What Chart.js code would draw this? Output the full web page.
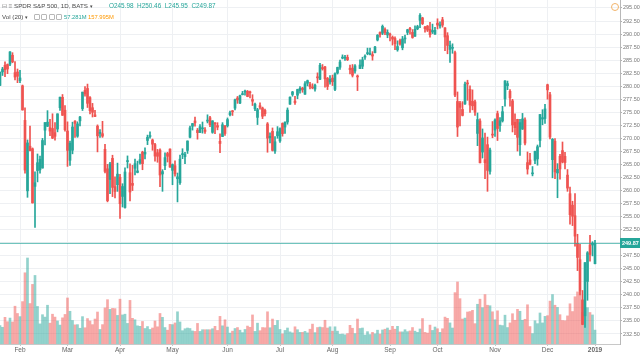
<!DOCTYPE html>
<html><head><meta charset="utf-8">
<script src="https://cdn.jsdelivr.net/npm/chart.js@4/dist/chart.umd.min.js"></script>
<style>
html,body{margin:0;padding:0;background:#fff;}
#wrap{position:relative;width:640px;height:356px;font-family:"Liberation Sans",Arial,sans-serif;overflow:hidden;}
canvas{position:absolute;left:0;top:0;}
.t{position:absolute;white-space:nowrap;font-size:6.2px;line-height:8px;color:#4a4a4a;}
.ic{display:inline-block;width:4px;height:4px;border:1px solid #b8b8b8;border-radius:1px;margin-right:1.3px;vertical-align:-1px;}
</style></head>
<body><div id="wrap"><canvas id="c" width="640" height="356"></canvas>
<div class="t" style="left:2px;top:1.5px;"><span style="color:#888">⊟</span>&nbsp;<span style="color:#888">≡</span> SPDR S&amp;P 500, 1D, BATS <span style="font-size:5px">▾</span></div>
<div class="t" id="ohlc" style="left:109px;top:1.5px;color:#26a69a;font-size:6.4px;"></div>
<div class="t" style="left:2px;top:12.5px;">Vol (20) <span style="font-size:5px">▾</span></div>
<div class="t" style="left:34px;top:12.5px;"><span class="ic"></span><span class="ic"></span><span class="ic"></span><span class="ic"></span></div>
<div class="t" id="vol1" style="left:64px;top:12.5px;color:#26a69a;font-size:5.8px;"></div>
<div class="t" id="vol2" style="left:88px;top:12.5px;color:#ff9800;font-size:5.8px;"></div>
<div style="position:absolute;left:611px;top:3px;width:6px;height:6px;border:1px solid #f2b36a;border-radius:50%;"></div>
</div>
<script>
const dates = [
'2018-01-22','2018-01-23','2018-01-24','2018-01-25','2018-01-26','2018-01-29','2018-01-30','2018-01-31',
'2018-02-01','2018-02-02','2018-02-05','2018-02-06','2018-02-07','2018-02-08','2018-02-09','2018-02-12','2018-02-13','2018-02-14','2018-02-15','2018-02-16','2018-02-20','2018-02-21','2018-02-22','2018-02-23','2018-02-26','2018-02-27','2018-02-28',
'2018-03-01','2018-03-02','2018-03-05','2018-03-06','2018-03-07','2018-03-08','2018-03-09','2018-03-12','2018-03-13','2018-03-14','2018-03-15','2018-03-16','2018-03-19','2018-03-20','2018-03-21','2018-03-22','2018-03-23','2018-03-26','2018-03-27','2018-03-28','2018-03-29',
'2018-04-02','2018-04-03','2018-04-04','2018-04-05','2018-04-06','2018-04-09','2018-04-10','2018-04-11','2018-04-12','2018-04-13','2018-04-16','2018-04-17','2018-04-18','2018-04-19','2018-04-20','2018-04-23','2018-04-24','2018-04-25','2018-04-26','2018-04-27','2018-04-30',
'2018-05-01','2018-05-02','2018-05-03','2018-05-04','2018-05-07','2018-05-08','2018-05-09','2018-05-10','2018-05-11','2018-05-14','2018-05-15','2018-05-16','2018-05-17','2018-05-18','2018-05-21','2018-05-22','2018-05-23','2018-05-24','2018-05-25','2018-05-29','2018-05-30','2018-05-31',
'2018-06-01','2018-06-04','2018-06-05','2018-06-06','2018-06-07','2018-06-08','2018-06-11','2018-06-12','2018-06-13','2018-06-14','2018-06-15','2018-06-18','2018-06-19','2018-06-20','2018-06-21','2018-06-22','2018-06-25','2018-06-26','2018-06-27','2018-06-28','2018-06-29',
'2018-07-02','2018-07-03','2018-07-05','2018-07-06','2018-07-09','2018-07-10','2018-07-11','2018-07-12','2018-07-13','2018-07-16','2018-07-17','2018-07-18','2018-07-19','2018-07-20','2018-07-23','2018-07-24','2018-07-25','2018-07-26','2018-07-27','2018-07-30','2018-07-31',
'2018-08-01','2018-08-02','2018-08-03','2018-08-06','2018-08-07','2018-08-08','2018-08-09','2018-08-10','2018-08-13','2018-08-14','2018-08-15','2018-08-16','2018-08-17','2018-08-20','2018-08-21','2018-08-22','2018-08-23','2018-08-24','2018-08-27','2018-08-28','2018-08-29','2018-08-30','2018-08-31',
'2018-09-04','2018-09-05','2018-09-06','2018-09-07','2018-09-10','2018-09-11','2018-09-12','2018-09-13','2018-09-14','2018-09-17','2018-09-18','2018-09-19','2018-09-20','2018-09-21','2018-09-24','2018-09-25','2018-09-26','2018-09-27','2018-09-28',
'2018-10-01','2018-10-02','2018-10-03','2018-10-04','2018-10-05','2018-10-08','2018-10-09','2018-10-10','2018-10-11','2018-10-12','2018-10-15','2018-10-16','2018-10-17','2018-10-18','2018-10-19','2018-10-22','2018-10-23','2018-10-24','2018-10-25','2018-10-26','2018-10-29','2018-10-30','2018-10-31',
'2018-11-01','2018-11-02','2018-11-05','2018-11-06','2018-11-07','2018-11-08','2018-11-09','2018-11-12','2018-11-13','2018-11-14','2018-11-15','2018-11-16','2018-11-19','2018-11-20','2018-11-21','2018-11-23','2018-11-26','2018-11-27','2018-11-28','2018-11-29','2018-11-30',
'2018-12-03','2018-12-04','2018-12-06','2018-12-07','2018-12-10','2018-12-11','2018-12-12','2018-12-13','2018-12-14','2018-12-17','2018-12-18','2018-12-19','2018-12-20','2018-12-21','2018-12-24','2018-12-26','2018-12-27','2018-12-28','2018-12-31',
'2019-01-02'];

const opens = [
280.17,282.74,284.02,284.16,284.25,285.93,282.60,282.73,
281.07,280.08,273.45,259.94,268.50,268.01,260.80,263.83,263.97,264.31,271.57,272.32,272.03,271.90,271.10,271.79,275.87,277.87,275.40,
271.41,265.80,267.73,273.30,270.42,273.36,275.71,279.20,279.57,277.81,275.88,274.50,272.35,270.95,270.90,267.91,264.17,262.13,266.17,260.75,261.12,
262.55,258.87,256.75,265.55,263.42,261.37,264.27,263.47,265.29,267.37,267.00,269.60,270.35,269.70,268.81,267.26,267.76,263.18,264.78,267.10,267.95,
263.87,264.76,262.26,261.52,266.89,266.50,267.69,270.22,272.33,273.34,271.57,271.14,271.83,271.62,273.31,273.96,271.16,272.98,272.45,269.45,270.36,272.43,
272.41,274.53,275.12,275.79,277.74,276.78,278.39,278.89,279.03,278.93,277.45,275.66,274.02,276.26,275.83,275.36,272.78,270.12,271.34,267.56,270.50,
269.51,272.87,272.17,273.14,276.56,278.41,277.15,278.28,279.17,279.64,278.47,280.56,280.31,279.77,279.45,281.79,281.33,283.59,283.71,281.51,280.81,
281.56,279.39,282.53,283.64,285.39,285.39,285.53,283.45,283.47,282.92,281.97,283.40,283.83,285.57,286.25,286.10,286.06,286.44,288.86,290.30,290.16,290.89,289.84,
289.84,289.41,289.15,286.98,288.74,287.37,289.06,290.32,291.06,290.32,289.58,291.00,292.64,293.09,291.34,291.53,290.91,290.41,289.99,
292.11,291.56,292.74,291.18,289.69,287.05,287.27,286.44,277.08,276.77,275.55,276.60,280.49,279.40,277.13,277.00,270.95,273.33,267.38,265.92,268.80,263.67,270.65,
271.60,274.75,272.44,273.34,277.56,280.11,279.03,277.19,273.09,273.64,268.78,271.79,273.54,265.36,265.86,263.20,265.78,266.06,269.60,273.71,273.81,
280.28,278.37,265.92,269.46,263.37,266.56,267.66,266.55,262.96,259.40,257.20,255.17,249.86,246.74,239.04,235.97,242.57,249.58,249.56,
245.98];

const highs = [
282.69,283.62,284.70,284.27,286.63,286.43,284.74,283.30,
283.06,280.23,275.85,269.70,272.36,268.17,263.61,267.01,266.62,270.00,273.04,275.32,273.67,274.72,273.05,274.71,277.91,278.41,276.29,
273.17,269.48,273.11,273.39,273.18,274.24,278.87,279.91,280.41,278.02,276.71,275.39,272.59,271.67,273.27,268.87,265.02,265.43,266.77,262.64,265.26,
263.13,261.31,264.36,266.64,265.11,264.84,266.04,265.64,267.00,267.54,268.20,270.63,271.25,269.88,269.06,267.89,268.00,264.00,267.22,267.34,268.00,
265.10,265.68,263.36,266.79,268.02,267.32,269.52,272.36,272.85,274.07,271.91,272.65,273.14,272.06,274.52,274.25,273.39,273.05,273.01,270.89,273.02,272.47,
273.92,275.22,275.36,277.52,278.04,278.30,279.01,279.27,279.19,279.08,278.37,276.79,275.76,276.82,276.00,275.60,273.04,271.06,272.00,270.34,272.26,
272.04,272.98,273.18,275.84,277.96,279.01,278.04,279.43,279.93,279.80,280.91,281.18,280.74,280.48,280.43,282.56,284.37,284.16,283.82,281.69,282.02,
282.13,282.58,283.66,284.99,286.01,285.91,285.97,284.06,284.16,284.17,282.16,285.04,285.56,286.01,287.31,287.31,286.63,287.67,289.90,290.42,291.74,291.18,290.81,
290.21,289.64,289.49,288.70,289.04,289.55,289.80,290.92,291.27,290.86,291.58,291.69,293.94,293.22,291.50,291.65,292.24,291.91,291.28,
292.93,292.36,293.21,291.24,290.27,288.65,288.13,286.72,278.90,277.09,277.04,280.79,281.15,280.07,279.30,277.36,274.87,273.76,271.81,271.00,270.25,268.12,273.23,
273.73,275.23,274.01,276.14,281.10,280.99,279.34,277.49,274.69,273.67,273.66,274.79,273.94,267.40,267.12,264.60,267.55,268.73,274.58,275.50,276.51,
280.40,278.85,269.97,269.94,265.16,266.95,269.31,267.34,264.03,260.65,257.95,259.40,251.62,249.71,240.84,246.18,248.29,251.40,250.19,
250.46];

const lows = [
280.11,282.06,281.84,282.41,283.96,284.50,281.22,280.68,
280.68,275.41,263.31,258.70,267.58,257.59,252.92,261.66,263.31,264.30,268.77,272.27,270.50,269.94,269.64,271.25,275.35,274.39,271.37,
264.63,264.81,267.04,270.19,270.20,272.41,275.34,278.08,275.92,274.67,274.10,274.14,267.41,270.18,270.19,263.36,257.83,259.41,258.84,258.58,259.84,
254.67,256.84,256.60,264.32,257.99,259.99,262.98,263.39,265.06,263.99,266.07,268.80,270.03,267.72,265.61,265.42,260.76,259.85,264.02,265.47,264.43,
261.11,262.76,257.82,261.15,266.11,265.15,267.11,270.07,271.59,272.36,269.85,271.11,271.01,270.96,272.96,272.26,270.98,270.90,271.64,267.27,270.33,270.56,
272.17,274.30,274.39,275.46,276.71,276.64,278.33,278.28,277.98,277.76,276.30,275.32,272.65,275.61,273.79,274.32,267.34,269.11,267.57,267.12,270.02,
269.24,270.42,270.96,272.71,276.50,278.08,276.52,277.60,278.66,278.84,278.41,280.06,279.46,279.50,279.06,280.64,281.28,283.09,279.80,279.36,280.38,
280.13,279.16,282.33,283.20,285.24,284.94,284.92,282.36,281.77,282.48,279.16,283.36,283.37,285.15,286.03,285.98,284.99,286.38,288.68,289.40,289.89,289.90,289.29,
288.68,287.89,287.00,286.71,287.88,286.98,288.23,289.87,290.00,289.20,289.55,290.83,291.24,291.81,290.37,290.48,289.41,290.10,289.95,
290.98,291.14,291.32,286.80,286.22,284.55,286.31,277.99,270.36,272.37,274.30,276.51,277.30,274.97,275.47,274.41,268.61,265.30,266.23,262.29,259.85,263.12,270.12,
270.38,269.59,271.35,273.13,276.16,279.34,276.18,271.23,270.70,267.57,266.72,271.71,268.74,263.15,264.90,262.81,265.15,264.86,268.36,272.61,272.85,
277.51,269.90,262.44,262.29,258.62,262.19,265.29,264.14,259.85,253.53,253.28,249.35,244.65,239.98,234.27,233.76,238.96,246.45,247.47,
245.95];

const closes = [
282.69,283.29,283.18,283.30,286.58,284.68,281.76,281.90,
281.58,275.45,263.93,269.13,267.67,257.63,261.50,265.34,266.00,269.59,273.03,273.11,271.40,270.05,270.40,274.71,277.90,274.43,271.65,
267.70,269.08,272.19,272.88,272.78,274.10,278.87,278.52,276.72,275.30,275.00,274.20,270.49,270.95,270.43,263.67,258.05,265.11,260.60,259.83,263.15,
257.47,260.77,263.56,265.64,259.72,261.00,265.15,263.76,265.93,265.15,267.33,270.19,270.39,268.89,266.61,266.57,262.98,263.63,266.31,266.56,264.51,
264.98,263.20,262.62,266.02,266.92,266.92,269.50,272.02,272.85,272.98,271.10,272.24,271.95,271.33,273.37,272.63,273.36,272.76,272.15,269.02,272.61,270.94,
273.60,274.90,275.10,277.40,277.37,278.19,278.56,278.92,278.03,278.73,277.13,276.56,275.50,275.97,274.24,274.74,270.04,270.40,267.70,269.35,271.28,
271.86,270.90,273.11,275.42,277.90,278.90,276.86,279.37,279.59,279.34,280.47,281.06,279.88,279.68,280.20,281.61,284.01,283.34,281.42,279.95,281.33,
280.86,282.39,283.60,284.64,285.58,285.46,285.07,283.16,282.10,283.90,281.78,284.06,285.06,285.67,286.34,286.17,285.79,287.51,289.78,289.92,291.48,290.30,290.31,
289.81,289.03,288.16,287.60,288.10,289.05,289.12,290.83,290.88,289.34,290.91,291.44,293.58,291.99,291.02,290.75,289.88,290.69,290.72,
291.73,291.56,291.72,289.44,287.82,287.82,287.40,278.30,272.17,275.95,274.40,280.40,280.45,276.40,276.25,275.01,273.61,265.32,270.08,265.33,263.86,267.77,270.63,
273.51,271.89,273.39,275.12,281.01,280.50,277.76,272.57,272.06,270.20,273.02,273.73,269.10,264.12,265.02,263.25,267.50,268.40,274.58,273.98,275.65,
279.30,270.25,269.84,263.57,264.07,264.13,265.46,265.37,260.47,255.36,255.08,251.26,247.17,240.70,234.34,246.18,248.07,247.75,249.92,
249.87];

// volume in millions of shares
const volumes = [
76,69,110,92,107,91,156,126,
113,175,294,355,167,246,283,155,83,121,111,160,86,123,111,95,78,108,122,
190,135,97,79,80,65,113,67,105,95,80,103,132,60,80,149,183,143,147,146,118,
185,120,123,85,180,106,100,75,73,93,64,72,60,66,95,71,126,110,68,57,81,
80,87,133,91,55,63,66,64,54,52,85,52,59,59,59,59,63,73,56,114,75,100,
70,45,53,64,68,57,47,60,74,69,120,52,86,55,68,67,133,67,103,77,97,
60,42,56,66,50,46,71,59,48,48,52,46,61,82,47,68,70,68,98,66,71,
53,71,53,40,41,38,43,77,65,43,103,64,66,37,51,39,48,42,57,41,58,61,66,
57,73,61,73,50,50,59,51,54,68,53,48,62,105,48,45,78,56,70,
63,48,63,111,106,87,66,212,256,187,103,107,132,134,139,84,164,185,150,204,160,158,133,
100,137,78,76,119,68,87,125,98,143,135,98,102,162,72,43,96,84,128,87,114,
117,177,204,160,151,121,97,96,116,166,134,195,215,215,130,150,150,130,120,
57.281];

const monthLabels = ['Feb','Mar','Apr','May','Jun','Jul','Aug','Sep','Oct','Nov','Dec','2019'];
const volMA20 = 157.995;

const UP = '#26a69a', DOWN = '#ef5350';
const UPV = 'rgba(38,166,154,0.5)', DOWNV = 'rgba(239,83,80,0.5)';
const isUp = i => closes[i] >= opens[i];
const last = dates.length - 1;
const lastClose = closes[last];

const monthTickIdx = [];
for (let i = 1; i < dates.length; i++) {
  if (dates[i].slice(5, 7) !== dates[i - 1].slice(5, 7)) monthTickIdx.push(i);
}
const labelFor = v => { const k = monthTickIdx.indexOf(v); return k >= 0 ? monthLabels[k] : ''; };

document.getElementById('ohlc').innerHTML =
  'O' + opens[last].toFixed(2) + '&nbsp; H' + highs[last].toFixed(2) + '&nbsp; L' + lows[last].toFixed(2) + '&nbsp; C' + closes[last].toFixed(2);
document.getElementById('vol1').textContent = volumes[last].toFixed(3) + 'M';
document.getElementById('vol2').textContent = volMA20.toFixed(3) + 'M';

const X_MAX = last + 10;
const TICK_FONT = '"Liberation Sans", Arial';

const priceTag = {
  id: 'priceTag',
  afterDraw(chart) {
    const c = chart.ctx, ys = chart.scales.y, a = chart.chartArea;
    const py = Math.round(ys.getPixelForValue(lastClose));
    c.save();
    c.fillStyle = UP;
    c.fillRect(a.right, py - 5, 640 - a.right, 10);
    c.fillStyle = '#fff';
    c.font = 'bold 5.5px ' + TICK_FONT;
    c.textBaseline = 'middle';
    c.fillText(lastClose.toFixed(2), a.right + 2, py + 0.5);
    c.restore();
  }
};

new Chart(document.getElementById('c'), {
  type: 'bar',
  data: {
    datasets: [
      {
        type: 'line', data: [{x: -5, y: lastClose}, {x: X_MAX + 5, y: lastClose}],
        borderColor: 'rgba(38,166,154,0.75)', borderWidth: 1, pointRadius: 0, yAxisID: 'y', order: 0
      },
      {
        data: dates.map((d, i) => ({x: i, y: [opens[i], closes[i]]})),
        backgroundColor: c => isUp(c.dataIndex) ? UP : DOWN,
        barThickness: 2, minBarLength: 1, grouped: false, yAxisID: 'y', order: 1
      },
      {
        data: dates.map((d, i) => ({x: i, y: [lows[i], highs[i]]})),
        backgroundColor: c => isUp(c.dataIndex) ? UP : DOWN,
        barThickness: 1, grouped: false, yAxisID: 'y', order: 2
      },
      {
        data: dates.map((d, i) => ({x: i, y: volumes[i]})),
        backgroundColor: c => isUp(c.dataIndex) ? UPV : DOWNV,
        barThickness: 2, grouped: false, yAxisID: 'yv', order: 3
      }
    ]
  },
  options: {
    responsive: false, animation: false, devicePixelRatio: 1,
    layout: {padding: 0},
    plugins: {legend: {display: false}, tooltip: {enabled: false}},
    scales: {
      x: {
        type: 'linear', min: 0, max: X_MAX, offset: false,
        grid: {color: '#eef0f3', offset: false, tickLength: 2, tickColor: '#c8c8c8'},
        border: {color: '#c8c8c8'},
        afterBuildTicks: s => { s.ticks = monthTickIdx.map(v => ({value: v})); },
        afterFit: s => { s.height = 12; s.paddingLeft = 0; s.paddingRight = 0; },
        ticks: {
          autoSkip: false, maxRotation: 0, padding: 0, color: '#666',
          font: c => ({family: TICK_FONT, size: 6.5, weight: (c.tick && labelFor(c.tick.value) === '2019') ? 'bold' : 'normal'}),
          callback: v => labelFor(v)
        }
      },
      y: {
        position: 'right', min: 230.58, max: 296.53,
        grid: {color: '#eef0f3', tickLength: 2, tickColor: '#b0b0b0'},
        border: {color: '#b8b8b8'},
        afterBuildTicks: s => { const t = []; for (let k = 0; k <= 25; k++) t.push({value: 232.5 + 2.5 * k}); s.ticks = t; },
        afterFit: s => { s.width = 20; s.paddingTop = 0; s.paddingBottom = 0; },
        ticks: {padding: 1, color: '#777', font: {family: TICK_FONT, size: 5.5}, callback: v => v.toFixed(2)}
      },
      yv: {display: false, min: 0, max: 1420}
    }
  },
  plugins: [priceTag]
});
</script>
</body></html>
